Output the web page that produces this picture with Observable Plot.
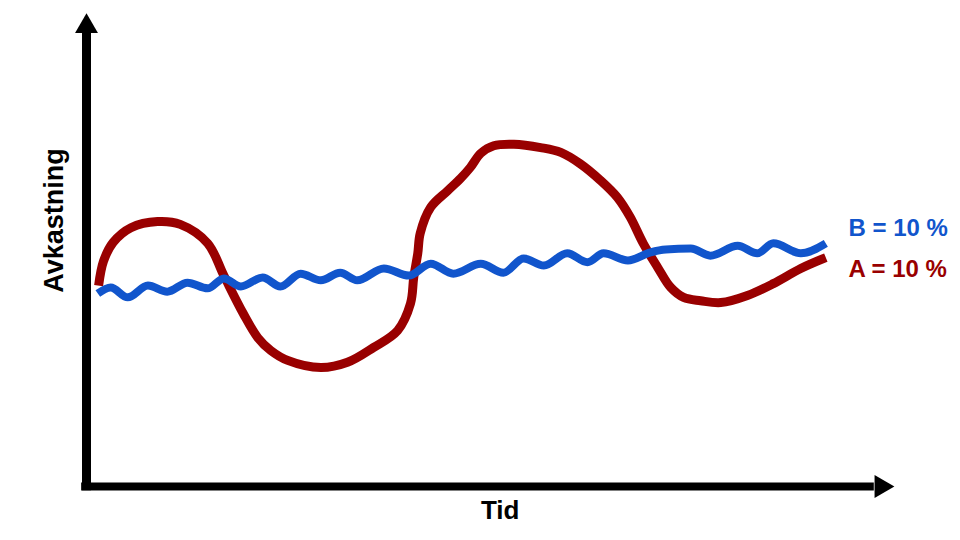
<!DOCTYPE html>
<html>
<head>
<meta charset="utf-8">
<script src="https://cdn.jsdelivr.net/npm/d3@7"></script>
<script src="https://cdn.jsdelivr.net/npm/@observablehq/plot@0.6"></script>
<style>
  html, body { margin: 0; padding: 0; background: #ffffff; }
  #chart svg { display: block; }
</style>
</head>
<body>
<div id="chart"></div>
<script>
// Series A (red): time and return (0–100 units)
const timeA = [1.5, 2.1, 3.3, 5.5, 8.8, 11.6, 15.0, 17.0, 19.4, 21.2, 22.8, 24.9, 29.0, 32.3, 35.5, 38.5, 40.1, 40.5, 41.0, 41.3, 42.6, 44.7, 46.3, 47.5, 48.8, 50.4, 52.9, 56.2, 58.7, 61.1, 63.6, 65.7, 67.3, 68.9, 70.7, 72.3, 73.9, 76.0, 78.5, 81.8, 85.0, 88.4, 91.5];
const returnA = [42.4, 47.5, 51.5, 54.6, 55.9, 55.3, 51.3, 44.5, 36.5, 31.4, 28.7, 26.6, 25.1, 26.2, 29.3, 32.9, 38.6, 44.1, 49.2, 53.4, 58.9, 62.4, 65.0, 67.3, 70.3, 71.9, 72.2, 71.5, 70.5, 68.1, 64.6, 61.0, 56.8, 51.3, 46.2, 42.0, 39.9, 39.2, 38.8, 40.3, 42.8, 46.0, 48.3];

// Series B (blue): time and return
const timeB = [1.4, 3.0, 5.1, 7.6, 10.0, 12.5, 15.0, 17.0, 19.1, 21.8, 24.0, 26.5, 29.0, 31.4, 33.5, 36.8, 39.9, 42.6, 45.4, 48.8, 51.6, 54.1, 56.6, 59.5, 62.0, 64.0, 67.0, 69.8, 71.7, 74.8, 77.2, 80.6, 83.0, 85.0, 88.4, 91.5];
const returnB = [40.7, 42.0, 39.9, 42.4, 41.1, 43.0, 41.8, 43.9, 42.2, 44.1, 42.2, 44.9, 43.5, 45.1, 43.5, 46.0, 44.5, 47.0, 44.9, 47.0, 45.1, 48.1, 46.6, 49.2, 47.3, 49.2, 47.7, 49.4, 50.0, 50.2, 48.7, 50.8, 49.2, 51.3, 49.2, 51.3];

// Labels
const seriesLabels = ["A = 10 %", "B = 10 %"];
const xTitle = "Tid";
const yTitle = "Avkastning";

const dataA = timeA.map((t, i) => ({time: t, ret: returnA[i]}));
const dataB = timeB.map((t, i) => ({time: t, ret: returnB[i]}));

const RED = "#990000";
const BLUE = "#1155cc";
const FONT = "'Liberation Sans', Arial, Helvetica, sans-serif";

const chart = Plot.plot({
  width: 960,
  height: 540,
  marginLeft: 86,
  marginRight: 66,
  marginTop: 12,
  marginBottom: 54,
  x: {domain: [0, 100], axis: null},
  y: {domain: [0, 100], axis: null},
  style: {fontFamily: FONT, background: "#ffffff"},
  marks: [
    // axes
    Plot.ruleX([0], {y1: -0.9, y2: 96, stroke: "#000", strokeWidth: 9, strokeLinecap: "butt"}),
    Plot.ruleY([0], {x1: -0.6, x2: 97.5, stroke: "#000", strokeWidth: 8, strokeLinecap: "butt"}),
    Plot.dot([0], {x: 0, y: 97.05, symbol: "triangle", r: 8.5, fill: "#000", stroke: "none"}),
    Plot.dot([0], {x: 98.35, y: 0, symbol: "triangle", r: 8.5, fill: "#000", stroke: "none", rotate: 90}),
    // series
    Plot.line(dataA, {x: "time", y: "ret", stroke: RED, strokeWidth: 9, curve: "catmull-rom", strokeLinecap: "butt"}),
    Plot.line(dataB, {x: "time", y: "ret", stroke: BLUE, strokeWidth: 8, curve: "monotone-x", strokeLinecap: "butt"}),
    // series labels
    Plot.text([seriesLabels[1]], {x: 94.3, y: 54.4, text: d => d, fill: BLUE, fontSize: 24, fontWeight: "bold", textAnchor: "start"}),
    Plot.text([seriesLabels[0]], {x: 94.3, y: 45.9, text: d => d, fill: RED, fontSize: 24, fontWeight: "bold", textAnchor: "start"}),
    // axis titles
    Plot.text([xTitle], {x: 51.2, y: -5.2, text: d => d, fill: "#000", fontSize: 26, fontWeight: "bold"}),
    Plot.text([yTitle], {x: -3.96, y: 56.1, text: d => d, fill: "#000", fontSize: 27, fontWeight: "bold", rotate: -90})
  ]
});

document.getElementById("chart").appendChild(chart);
</script>
</body>
</html>
